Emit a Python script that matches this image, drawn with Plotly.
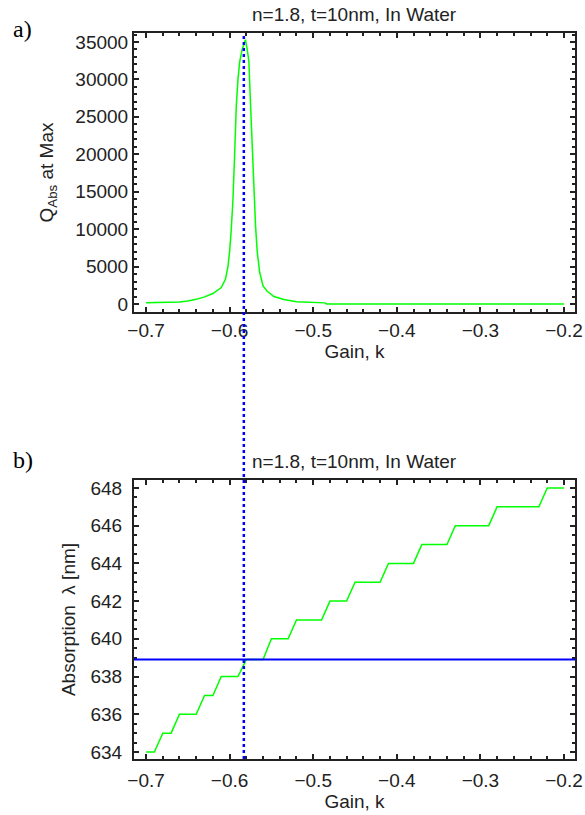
import plotly.graph_objects as go

# a) peak absorption efficiency vs gain
gain_a = [-0.700, -0.690, -0.680, -0.670, -0.660, -0.650, -0.640, -0.630, -0.620, -0.610,
          -0.605, -0.602, -0.600, -0.598, -0.596, -0.594, -0.592, -0.590, -0.588, -0.585,
          -0.581, -0.579, -0.577, -0.575, -0.573, -0.571, -0.569, -0.567, -0.564, -0.560,
          -0.555, -0.547, -0.535, -0.520, -0.500, -0.486, -0.484, -0.450, -0.400, -0.350,
          -0.300, -0.250, -0.200]
q_abs = [150, 160, 180, 200, 280, 400, 620, 950, 1400, 2200,
         3300, 5000, 7000, 10000, 14000, 20000, 26500, 30000, 32300, 34000,
         35300, 34000, 32500, 26700, 21000, 15000, 10500, 7000, 4200, 2400,
         1700, 1000, 600, 300, 200, 150, 0, 0, 0, 0,
         0, 0, 0]

# b) absorption wavelength vs gain
gain_b = [-0.70, -0.69, -0.68, -0.67, -0.66, -0.65, -0.64, -0.63, -0.62, -0.61,
          -0.60, -0.59, -0.58, -0.57, -0.56, -0.55, -0.54, -0.53, -0.52, -0.51,
          -0.50, -0.49, -0.48, -0.47, -0.46, -0.45, -0.44, -0.43, -0.42, -0.41,
          -0.40, -0.39, -0.38, -0.37, -0.36, -0.35, -0.34, -0.33, -0.32, -0.31,
          -0.30, -0.29, -0.28, -0.27, -0.26, -0.25, -0.24, -0.23, -0.22, -0.21,
          -0.20]
wavelength = [634, 634, 635, 635, 636, 636, 636, 637, 637, 638,
              638, 638, 638.9, 638.9, 638.9, 640, 640, 640, 641, 641,
              641, 641, 642, 642, 642, 643, 643, 643, 643, 644,
              644, 644, 644, 645, 645, 645, 645, 646, 646, 646,
              646, 646, 647, 647, 647, 647, 647, 647, 648, 648,
              648]

k_max = -0.583
lambda_max = 638.9
title_text = "n=1.8, t=10nm, In Water"

FONT = "Liberation Sans, Arial, sans-serif"

fig = go.Figure()
fig.add_trace(go.Scatter(x=gain_a, y=q_abs, mode="lines", xaxis="x", yaxis="y",
                         line=dict(color="#00ff00", width=1.5), showlegend=False))
fig.add_trace(go.Scatter(x=gain_b, y=wavelength, mode="lines", xaxis="x2", yaxis="y2",
                         line=dict(color="#00ff00", width=1.5), showlegend=False))


def frame_axis(**kw):
    d = dict(showline=True, linecolor="#222", linewidth=2, mirror="allticks",
             ticks="inside", ticklen=5, tickwidth=1.5, tickcolor="#222",
             showgrid=False, zeroline=False, automargin=False,
             tickfont=dict(family=FONT, size=19, color="#222"),
             title_font=dict(family=FONT, size=19, color="#222"))
    d.update(kw)
    return d


x_dom = [134 / 585, 575 / 585]
minor_x = dict(ticks="inside", ticklen=3, dtick=0.02, tickcolor="#222", showgrid=False)

fig.update_layout(
    width=585, height=815,
    margin=dict(l=0, r=0, t=0, b=0),
    paper_bgcolor="white", plot_bgcolor="white",
    xaxis=frame_axis(domain=x_dom, anchor="y", range=[-0.7144, -0.1868], dtick=0.1,
                     tick0=-0.7, minor=minor_x, title=dict(text="Gain, k", standoff=0),
                     ticklabelstandoff=0),
    yaxis=frame_axis(domain=[1 - 312 / 815, 1 - 33 / 815], anchor="x", range=[-1070, 36200],
                     dtick=5000, tick0=0, tickformat="d",
                     minor=dict(ticks="inside", ticklen=3, dtick=1000, tickcolor="#222", showgrid=False),
                     title=dict(text="Q<sub>Abs</sub> at Max", standoff=17)),
    xaxis2=frame_axis(domain=x_dom, anchor="y2", range=[-0.7144, -0.1868], dtick=0.1,
                      tick0=-0.7, minor=minor_x, title=dict(text="Gain, k", standoff=2),
                      ticklabelstandoff=3),
    yaxis2=frame_axis(domain=[1 - 759 / 815, 1 - 480 / 815], anchor="x2", range=[633.63, 648.42],
                      dtick=2, tick0=634,
                      minor=dict(ticks="inside", ticklen=3, dtick=0.5, tickcolor="#222", showgrid=False),
                      title=dict(text="Absorption  λ [nm]", standoff=10), ticklabelstandoff=6),
)

# dotted line at the peak gain, running through both panels
fig.add_shape(type="line", xref="x", yref="paper", x0=k_max, x1=k_max,
              y0=1 - 759 / 815, y1=1 - 33 / 815,
              line=dict(color="#0000ff", width=2.5, dash="dot"))
# wavelength at the peak gain
fig.add_shape(type="line", xref="x2 domain", yref="y2", x0=0, x1=1,
              y0=lambda_max, y1=lambda_max, line=dict(color="#0000ff", width=2))

for yy in [1 - 14 / 815, 1 - 462 / 815]:
    fig.add_annotation(text=title_text, xref="x domain", x=0.5, yref="paper", y=yy,
                       yanchor="middle", showarrow=False,
                       font=dict(family=FONT, size=19, color="#222"))

serif = dict(family="Liberation Serif, Times New Roman, serif", size=24, color="black")
fig.add_annotation(text="a)", xref="paper", x=11 / 585, xanchor="left", yref="paper",
                   y=1 - 29 / 815, yanchor="middle", showarrow=False, font=serif)
fig.add_annotation(text="b)", xref="paper", x=11 / 585, xanchor="left", yref="paper",
                   y=1 - 460 / 815, yanchor="middle", showarrow=False, font=serif)

# drop the browser's default body margin so the figure sits at the page corner
fig.write_html("out.html", config={"displayModeBar": False},
               post_script="document.body.style.margin='0';")
